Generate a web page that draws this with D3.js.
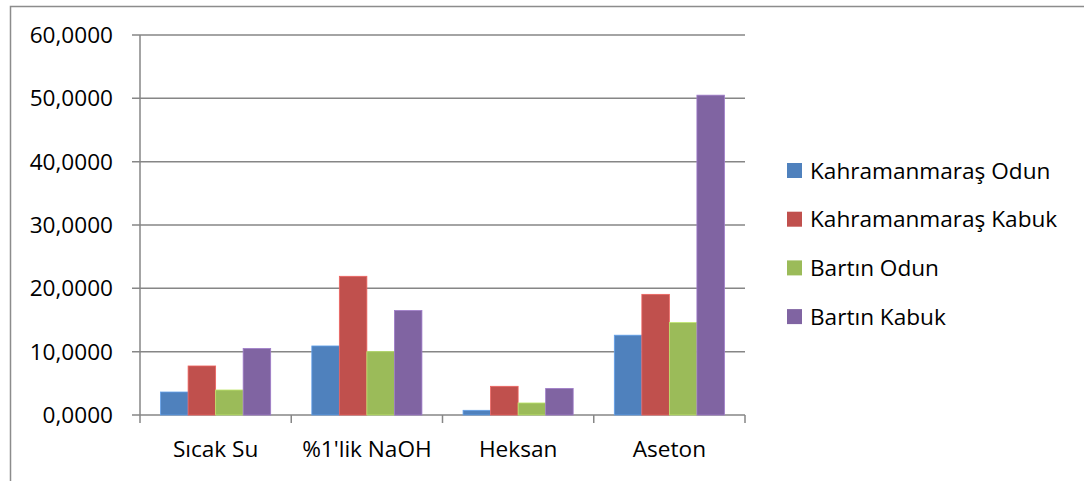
<!DOCTYPE html>
<html>
<head>
<meta charset="utf-8">
<script src="https://cdn.jsdelivr.net/npm/d3@7"></script>
<style>
  html, body { margin: 0; padding: 0; background: #fff; }
  svg { display: block; }
  text { font-family: "Open Sans", "Noto Sans", sans-serif; fill: #000; }
</style>
</head>
<body>
<svg id="chart" width="1084" height="481"></svg>
<script>
// Extraction yields by solvent (%), four sample groups
const categories = ["Sıcak Su", "%1'lik NaOH", "Heksan", "Aseton"];
const seriesNames = ["Kahramanmaraş Odun", "Kahramanmaraş Kabuk", "Bartın Odun", "Bartın Kabuk"];
const seriesColors = ["#4F81BD", "#C0504D", "#9BBB59", "#8064A2"];
const kmOdun  = [3.63, 10.9, 0.74, 12.6];
const kmKabuk = [7.74, 21.9, 4.53, 19.05];
const brOdun  = [3.95, 10.0, 1.90, 14.6];
const brKabuk = [10.5, 16.5, 4.20, 50.5];
const yTicks = [0, 10, 20, 30, 40, 50, 60];

const seriesValues = [kmOdun, kmKabuk, brOdun, brKabuk];

const svg = d3.select("#chart");
const plot = { left: 140, right: 745, top: 35, bottom: 415 };
const fontSize = "22.6px";

// outer chart frame (top and left edges)
svg.append("path")
  .attr("d", "M10.5,481 V6.5 H1084")
  .attr("fill", "none")
  .attr("stroke", "#8c8c8c")
  .attr("stroke-width", 1.5);

const x0 = d3.scaleBand().domain(categories).range([plot.left, plot.right]).paddingInner(0.272).paddingOuter(0.136);
const x1 = d3.scaleBand().domain(seriesNames).range([0, x0.bandwidth()]);
const y = d3.scaleLinear().domain([0, 60]).range([plot.bottom, plot.top]);

// horizontal gridlines
svg.append("g").selectAll("line").data(yTicks).join("line")
  .attr("x1", plot.left - 8).attr("x2", plot.right)
  .attr("y1", d => y(d)).attr("y2", d => y(d))
  .attr("stroke", "#868686").attr("stroke-width", 1.5);

// y axis labels
const fmt = v => d3.format(".4f")(v).replace(".", ",");
svg.append("g").selectAll("text").data(yTicks).join("text")
  .attr("x", 113).attr("y", d => y(d) + 8)
  .attr("text-anchor", "end")
  .style("font-size", fontSize)
  .text(fmt);

// y axis line
svg.append("line")
  .attr("x1", plot.left).attr("x2", plot.left)
  .attr("y1", plot.top).attr("y2", plot.bottom)
  .attr("stroke", "#868686").attr("stroke-width", 1.5);

// category boundary ticks on the x axis
const step = (plot.right - plot.left) / categories.length;
const bounds = d3.range(categories.length + 1).map(i => plot.left + i * step);
svg.append("g").selectAll("line").data(bounds).join("line")
  .attr("x1", d => d).attr("x2", d => d)
  .attr("y1", plot.bottom).attr("y2", plot.bottom + 8)
  .attr("stroke", "#868686").attr("stroke-width", 1.5);

// bars
const groups = svg.append("g").selectAll("g").data(categories).join("g")
  .attr("transform", d => `translate(${x0(d)},0)`);
groups.selectAll("rect")
  .data((c, ci) => seriesNames.map((s, si) => ({ s, si, v: seriesValues[si][ci] })))
  .join("rect")
  .attr("x", d => x1(d.s))
  .attr("width", x1.bandwidth())
  .attr("y", d => y(d.v))
  .attr("height", d => y(0) - y(d.v))
  .attr("fill", d => seriesColors[d.si])
  .attr("stroke", d => d3.color(seriesColors[d.si]).brighter(0.6))
  .attr("stroke-width", 0.8);

// category labels
svg.append("g").selectAll("text").data(categories).join("text")
  .attr("x", d => x0(d) + x0.bandwidth() / 2)
  .attr("y", 457)
  .attr("text-anchor", "middle")
  .style("font-size", fontSize)
  .text(d => d);

// legend
const legend = svg.append("g").selectAll("g").data(seriesNames).join("g")
  .attr("transform", (d, i) => `translate(787,${170.5 + i * 48.7})`);
legend.append("rect")
  .attr("x", 0).attr("y", -7.5).attr("width", 15).attr("height", 15)
  .attr("fill", (d, i) => seriesColors[i]);
legend.append("text")
  .attr("x", 23).attr("y", 8)
  .style("font-size", fontSize)
  .text(d => d);
</script>
</body>
</html>
